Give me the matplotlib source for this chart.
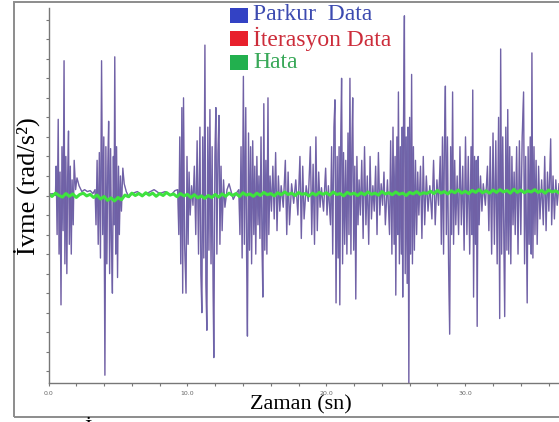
import numpy as np
import matplotlib.pyplot as plt
from matplotlib.patches import Rectangle
from matplotlib.ticker import MultipleLocator, NullFormatter

# ==== Données ====
# Parkur Data : instants (sn) et ivme (rad/s^2)
parkur_t = [0.0, 0.3, 0.5, 0.55, 0.62, 0.7, 0.76, 0.83, 0.90, 0.97, 1.05, 1.12, 1.18, 1.25, 1.32, 1.38,
            1.44, 1.50, 1.57, 1.64, 1.70, 1.78, 1.85, 1.95, 2.05, 2.2, 2.4, 2.6, 2.8, 3.0, 3.2,
            3.35, 3.42, 3.5, 3.58, 3.66, 3.74, 3.82, 3.9, 3.98, 4.06, 4.13, 4.2, 4.27, 4.33, 4.4,
            4.47, 4.53, 4.6, 4.67, 4.72, 4.77, 4.84, 4.9, 4.97, 5.04, 5.1, 5.18, 5.25, 5.35, 5.45,
            5.6, 5.8, 6.0, 6.4, 6.8, 7.2, 7.6, 8.0, 8.4, 8.8, 9.1,
            9.3, 9.38, 9.45, 9.52, 9.6, 9.66, 9.72, 9.8, 9.9, 9.97, 10.05, 10.12, 10.2, 10.3, 10.4,
            10.5, 10.6, 10.7, 10.8, 10.9, 10.97, 11.04, 11.1, 11.18, 11.26, 11.33, 11.4, 11.47,
            11.55, 11.62, 11.7, 11.78, 11.85, 11.9, 11.98, 12.05, 12.12, 12.2, 12.27, 12.34, 12.42,
            12.5, 12.6, 12.7, 12.85, 13.0, 13.15, 13.3, 13.5,
            13.7, 13.78, 13.86, 13.94, 14.03, 14.1, 14.2, 14.26, 14.32, 14.4, 14.47, 14.55, 14.62,
            14.7, 14.78, 14.85, 14.92, 15.0, 15.08, 15.15, 15.22, 15.3, 15.37, 15.43, 15.5, 15.57,
            15.65, 15.72, 15.8, 15.86, 15.95, 16.05,
            16.15, 16.25, 16.35, 16.45, 16.55, 16.65, 16.75, 16.9, 17.05, 17.15, 17.25, 17.35, 17.5,
            17.65, 17.8, 17.95, 18.1, 18.2, 18.3, 18.4, 18.55, 18.7, 18.85, 18.95, 19.05, 19.15,
            19.25, 19.35, 19.45, 19.55, 19.65, 19.8, 19.95, 20.05, 20.15,
            20.3, 20.38, 20.46, 20.55, 20.62, 20.7, 20.78, 20.85, 20.92, 20.97, 21.04, 21.1, 21.17,
            21.24, 21.32, 21.4, 21.48, 21.56, 21.63, 21.7, 21.77, 21.84, 21.9, 21.97, 22.05, 22.12,
            22.2, 22.28, 22.36, 22.45,
            22.55, 22.65, 22.75, 22.85, 22.95, 23.05, 23.15, 23.25, 23.35, 23.45, 23.55, 23.65,
            23.75, 23.85, 23.95, 24.05, 24.15, 24.25, 24.4,
            24.55, 24.63, 24.72, 24.8, 24.88, 24.95, 25.0, 25.08, 25.14, 25.19, 25.26, 25.33, 25.4,
            25.46, 25.5, 25.56, 25.62, 25.68, 25.75, 25.82, 25.88, 25.94, 26.0, 26.07, 26.14, 26.2,
            26.27, 26.34, 26.42, 26.5, 26.58, 26.66,
            26.78, 26.88, 26.98, 27.08, 27.2, 27.32, 27.45, 27.6, 27.72, 27.84, 27.96, 28.08,
            28.2, 28.28, 28.36, 28.44, 28.5, 28.57, 28.64, 28.72, 28.8, 28.88, 28.95, 29.02, 29.09,
            29.16, 29.24, 29.32, 29.42, 29.52, 29.62, 29.72, 29.82, 29.92, 30.02, 30.12, 30.22,
            30.32, 30.42, 30.48, 30.54, 30.6, 30.67, 30.74, 30.8, 30.86, 30.93, 31.0, 31.1, 31.2,
            31.3, 31.45, 31.6, 31.7, 31.8, 31.9, 32.0, 32.1, 32.2, 32.3, 32.4, 32.48, 32.55, 32.62,
            32.7, 32.78, 32.84, 32.92, 33.0, 33.06, 33.13, 33.2, 33.28, 33.36, 33.44, 33.52, 33.6,
            33.7, 33.8, 33.9, 34.0, 34.1, 34.2, 34.27, 34.35, 34.46, 34.53, 34.6, 34.68, 34.75,
            34.8, 34.87, 34.95, 35.02, 35.1, 35.18, 35.28, 35.38, 35.5, 35.62, 35.72, 35.82, 35.92,
            36.02, 36.1, 36.15, 36.22, 36.32, 36.42, 36.52, 36.62, 36.75]
parkur_v = [0.05, 0.1, 0.0, 1.5, -2.0, 3.9, -3.0, 1.2, -5.6, 2.5, -1.8, 6.9, -3.5, 2.0, -4.0, 1.0,
            3.3, -2.5, 1.5, -3.0, 0.8, -1.5, 1.8, 0.3, 0.9, 0.5, 0.2, 0.3, 0.2, 0.25, 0.1,
            0.3, -1.5, 1.8, -2.5, 2.2, -3.2, 6.9, -2.0, 3.0, -9.2, 2.5, -3.5, 1.5, 3.8, -4.0,
            2.4, -2.2, -5.0, 2.0, -1.5, 7.1, -3.0, 2.5, -4.2, 1.5, -2.0, 1.0, -0.8, 1.4, 0.6,
            0.2, -0.1, 0.1, 0.2, 0.0, 0.15, 0.3, 0.1, 0.2, 0.0, 0.25,
            0.3, -2.0, 3.0, -3.5, 4.5, -5.0, 5.0, -2.5, -5.0, 2.0, -2.5, 1.2, -1.0, 0.5, -0.5,
            1.5, -2.0, 2.8, -3.0, 3.5, -4.0, -6.0, 3.0, -3.2, 7.7, -4.5, -6.9, 3.5,
            -2.8, 4.4, -3.5, 2.5, -4.8, -8.3, 2.0, 4.5, -3.0, 2.2, 4.1, -2.5, 1.5,
            -1.8, 0.8, -0.6, 0.3, 0.6, 0.2, -0.2, 0.1,
            0.3, -2.0, 2.5, -3.2, 6.1, -2.5, 4.5, -3.0, -7.2, 3.2, -2.8, 2.5, -3.5,
            2.8, -2.0, 1.5, -3.0, 2.0, -1.5, 1.0, -2.2, 3.0, -2.5, -5.2, 4.7, -2.8,
            1.8, -3.0, 5.0, -2.0, 1.0, -0.8,
            1.5, -1.2, 2.2, -1.8, 1.0, -0.8, 0.5, -0.6, 1.8, -2.0, 1.2, -1.5, 0.6,
            -0.4, 0.8, -1.0, 2.0, -2.2, 1.5, -1.2, 0.5, -0.3, 2.5, -2.0, 1.6, -2.5,
            3.0, -1.8, 1.2, -0.6, 0.4, -0.8, 1.4, -1.0, 0.5,
            -1.5, 2.5, -3.0, 3.5, 4.9, -5.5, 2.0, -3.2, 2.5, -5.6, 3.0, 6.0, -3.5,
            2.2, -2.5, 1.8, -3.0, 3.2, -2.0, 6.0, -3.0, 2.5, 5.0, -2.8, 1.5, -5.3,
            2.0, -1.5, 0.8, -1.0,
            1.8, -2.2, 2.5, -1.5, 1.0, -2.5, 2.0, -1.2, 0.5, -0.8, 1.5, -2.0,
            2.2, -1.0, 0.6, -0.5, 1.2, -1.5, 0.8,
            -2.0, 2.8, -3.0, 3.5, -2.5, 2.0, -5.1, 3.0, -2.0, 5.3, -3.5, 2.5, -3.0,
            3.5, -5.2, 4.0, 9.2, -4.0, 3.0, -4.5, 3.5, -9.6, 4.0, -3.0, 6.2, -3.5,
            2.5, -2.8, 1.8, -2.0, 1.2, -1.0,
            1.5, -2.2, 2.0, -1.5, 1.0, -0.8, 0.5, -1.2, 1.8, -1.5, 0.8, -0.5,
            2.0, -2.5, 3.0, -3.0, 2.5, 5.6, -2.0, 3.0, -3.5, -7.1, 2.5, -2.0, 5.3,
            -2.5, 1.8, -1.5, 1.0, -2.0, 2.5, -1.5, 1.5, -2.8, 3.0, -2.0, 2.0,
            -3.0, 2.5, -2.0, 5.4, -5.2, 2.0, -2.5, 1.8, -6.7, 2.0, -1.5, 1.0, -0.8,
            0.6, -0.5, 1.5, -1.8, 2.5, -3.0, 3.2, -2.5, 2.8, -3.5, 4.0, -6.3, 7.5, -3.0,
            3.0, -2.5, -6.2, 3.5, -2.8, 4.4, -3.0, 2.5, -3.5, 2.0, -1.5, 1.2, -2.0,
            2.5, -3.0, 2.8, -2.0, 3.0, 5.3, -3.5, 2.0, -5.5, 2.5, -2.5, 3.0, -3.0,
            7.3, -3.2, 2.5, -2.0, 1.8, -2.5, 1.5, -1.2, 0.8, -1.5, 2.0, -1.8, 1.2,
            -0.8, 1.5, 2.9, -1.5, 1.0, -1.2, 0.8, -0.5, 0.6]

# İterasyon Data : suit la courbe du parkur
iterasyon_t = parkur_t
iterasyon_v = parkur_v

# Hata : erreur, un point tous les 0.25 sn de 0 à 37
hata_t = np.arange(0, 37.01, 0.25)
hata_v = [0.10, -0.05, 0.12, 0.00, -0.08, 0.10, -0.04, 0.08, -0.10, 0.05,
          0.12, -0.02, 0.06, -0.10, 0.02, -0.18, -0.05, -0.25, -0.12, -0.28,
          -0.10, -0.22, 0.02, -0.06, 0.12, 0.00, 0.10, -0.02, 0.14, 0.02,
          0.12, -0.04, 0.10, 0.00, 0.15, 0.02, 0.08, -0.06, 0.10, -0.02,
          0.06, -0.10, 0.04, -0.12, -0.02, -0.15, 0.00, -0.10, 0.05, -0.08,
          0.08, -0.04, 0.12, 0.00, 0.10, -0.05, 0.14, 0.02, 0.08, -0.04,
          0.12, 0.00, 0.16, 0.04, 0.10, -0.02, 0.14, 0.04, 0.18, 0.05,
          0.12, 0.00, 0.15, 0.06, 0.10, -0.02, 0.12, 0.02, 0.16, 0.06,
          0.14, 0.02, 0.18, 0.05, 0.10, -0.02, 0.16, 0.06, 0.12, 0.00,
          0.14, 0.04, 0.18, 0.06, 0.12, 0.02, 0.20, 0.08, 0.14, 0.04,
          0.18, 0.06, 0.12, 0.00, 0.16, 0.08, 0.20, 0.06, 0.14, 0.10,
          0.22, 0.10, 0.26, 0.12, 0.20, 0.08, 0.24, 0.14, 0.28, 0.12,
          0.22, 0.10, 0.26, 0.16, 0.30, 0.14, 0.24, 0.12, 0.28, 0.16,
          0.30, 0.18, 0.26, 0.12, 0.32, 0.16, 0.28, 0.14, 0.24, 0.18,
          0.30, 0.16, 0.26, 0.12, 0.28, 0.18, 0.24, 0.14, 0.26]

x_ticks = [0, 10, 20, 30]
x_tick_labels = ["0.0", "10.0", "20.0", "30.0"]

# ==== Figure ====
W, H = 559, 422
fig = plt.figure(figsize=(W / 100, H / 100), dpi=100)

# cadre gris extérieur
fig.patches.append(Rectangle((14 / W, 1 - 417 / H), 1.0, (417 - 2) / H, transform=fig.transFigure,
                             fill=False, edgecolor='#8c8c8c', linewidth=1.4))

ax = fig.add_axes([48.5 / W, 1 - 383 / H, 1 - 48.5 / W, (383 - 8) / H])
ax.plot(iterasyon_t, iterasyon_v, color='#d23a5a', linewidth=0.7, alpha=0.35)
ax.plot(parkur_t, parkur_v, color='#3a3a98', linewidth=1.0, alpha=0.7)
ax.plot(hata_t, hata_v, color='#3ee23e', linewidth=2.2)

ax.set_xlim(0, 36.75)
ax.set_ylim(-9.6, 9.6)
ax.set_xticks(x_ticks)
ax.set_xticklabels(x_tick_labels)
ax.xaxis.set_minor_locator(MultipleLocator(2))
ax.yaxis.set_major_locator(MultipleLocator(1))
ax.yaxis.set_major_formatter(NullFormatter())
ax.tick_params(axis='both', which='both', length=2.5, width=0.8, color='#777777',
               labelsize=4.5, labelcolor='#666666', pad=3)
for s in ['top', 'right']:
    ax.spines[s].set_visible(False)
for s in ['left', 'bottom']:
    ax.spines[s].set_color('#777777')
    ax.spines[s].set_linewidth(1.0)

serif = ['Liberation Serif', 'DejaVu Serif']
fig.text(27 / W, 1 - 186 / H, 'İvme (rad/s²)', rotation=90, ha='center', va='center',
         fontsize=19, family=serif, color='black')
fig.text(301 / W, 1 - 405 / H, 'Zaman (sn)', ha='center', va='center',
         fontsize=16, family=serif, color='black')

# légende
legend_labels = ['Parkur  Data', 'İterasyon Data', 'Hata']
box_colors = ['#3342c4', '#e8202c', '#22b04e']
text_colors = ['#3c4ab0', '#cc2c3a', '#38a858']
for i, (lab, bc, tc) in enumerate(zip(legend_labels, box_colors, text_colors)):
    yc = 15 + i * 23.5
    fig.patches.append(Rectangle((230 / W, 1 - (yc + 7.5) / H), 18 / W, 15 / H,
                                 transform=fig.transFigure, facecolor=bc, edgecolor='none'))
    fig.text(253 / W, 1 - yc / H, lab, ha='left', va='center', fontsize=17, family=serif, color=tc)

# morceau de texte coupé en bas
fig.text(88 / W, 1 - 419.5 / H, 'İ', ha='center', va='top', fontsize=16, family=serif, color='black')

fig.savefig('out.png', dpi=100)
